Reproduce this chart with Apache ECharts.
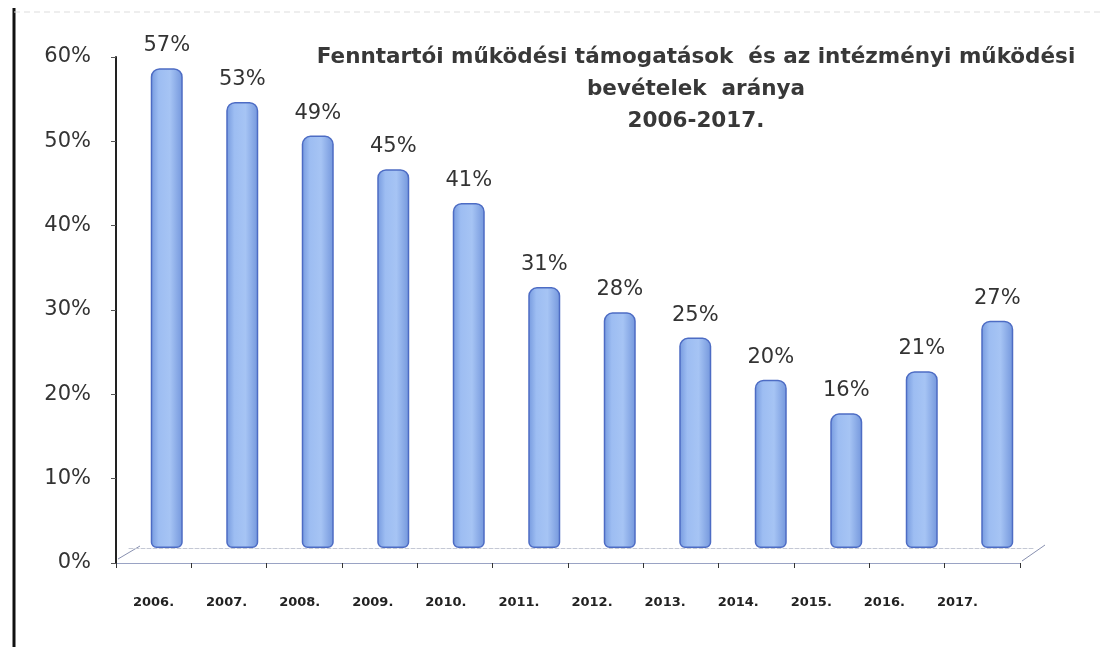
<!DOCTYPE html>
<html><head><meta charset="utf-8">
<script src="https://cdn.jsdelivr.net/npm/echarts@6/dist/echarts.min.js"></script>
<style>html,body{margin:0;padding:0;background:#fff}#c{width:1103px;height:647px}</style>
</head><body><div id="c"></div>
<script>
const categories = ['2006.','2007.','2008.','2009.','2010.','2011.','2012.','2013.','2014.','2015.','2016.','2017.'];
const values = [57,53,49,45,41,31,28,25,20,16,21,27];
const titleLines = ['Fenntartói működési támogatások  és az intézményi működési','bevételek  aránya','2006-2017.'];

const chart = echarts.init(document.getElementById('c'));
const font = '"DejaVu Sans", sans-serif';
chart.setOption({
  animation: false,
  backgroundColor: '#fff',
  title: {
    text: titleLines.join('\n'),
    left: 691, top: 36, textAlign: 'center',
    textStyle: {fontFamily: font, fontSize: 21.5, fontWeight: 'bold', color: '#383838', lineHeight: 32}
  },
  grid: [
    {left: 116, right: 83, top: 57, bottom: 84},
    {left: 129, right: 68, top: 43, bottom: 99},
    {left: 117, right: 109, top: 57, bottom: 84}
  ],
  xAxis: [
    {type: 'category', gridIndex: 0, data: categories,
     axisLine: {lineStyle: {color: '#9aa3c4', width: 1}},
     axisTick: {show: true, length: 5, lineStyle: {color: '#333'}},
     axisLabel: {show: false}},
    {type: 'category', gridIndex: 1, data: categories,
     axisLine: {lineStyle: {color: '#c4c8d4', type: 'dashed', width: 1}},
     axisTick: {show: false}, axisLabel: {show: false}},
    {type: 'category', gridIndex: 2, data: categories,
     axisLine: {show: false}, axisTick: {show: false},
     axisLabel: {fontFamily: font, fontSize: 13, fontWeight: 'bold', color: '#222', margin: 33}}
  ],
  yAxis: [
    {type: 'value', gridIndex: 0, min: 0, max: 60, interval: 10,
     axisLine: {show: true, lineStyle: {color: '#222', width: 2}},
     axisTick: {show: true, length: 5, lineStyle: {color: '#555'}},
     splitLine: {show: false},
     axisLabel: {formatter: '{value}%', fontFamily: font, fontSize: 21, color: '#333', margin: 25}},
    {type: 'value', gridIndex: 1, min: 0, max: 60, interval: 10, show: false},
    {type: 'value', gridIndex: 2, min: 0, max: 60, interval: 10, show: false}
  ],
  series: [{
    type: 'bar', xAxisIndex: 1, yAxisIndex: 1, data: values, barWidth: 32,
    itemStyle: {
      borderRadius: [8, 8, 5, 5],
      borderColor: '#4d6cc4', borderWidth: 1.5,
      color: {type: 'linear', x: 0, y: 0, x2: 1, y2: 0, colorStops: [
        {offset: 0, color: '#7599de'}, {offset: 0.25, color: '#9dbdf2'},
        {offset: 0.6, color: '#a6c4f4'}, {offset: 1, color: '#7396dc'}]}
    },
    label: {show: true, position: 'top', distance: 12, formatter: '{c}%',
      fontFamily: font, fontSize: 21, color: '#333'}
  }],
  graphic: [
    {type: 'line', shape: {x1: 14, y1: 8, x2: 14, y2: 647}, style: {stroke: '#111', lineWidth: 3}},
    {type: 'line', shape: {x1: 14, y1: 12, x2: 1103, y2: 12}, style: {stroke: '#ddd', lineWidth: 1, lineDash: [6, 4]}},
    {type: 'line', shape: {x1: 118, y1: 559, x2: 140, y2: 546}, style: {stroke: '#8890b0', lineWidth: 1}},
    {type: 'line', shape: {x1: 1022, y1: 561, x2: 1045, y2: 545}, style: {stroke: '#8890b0', lineWidth: 1}}
  ]
});
</script></body></html>
